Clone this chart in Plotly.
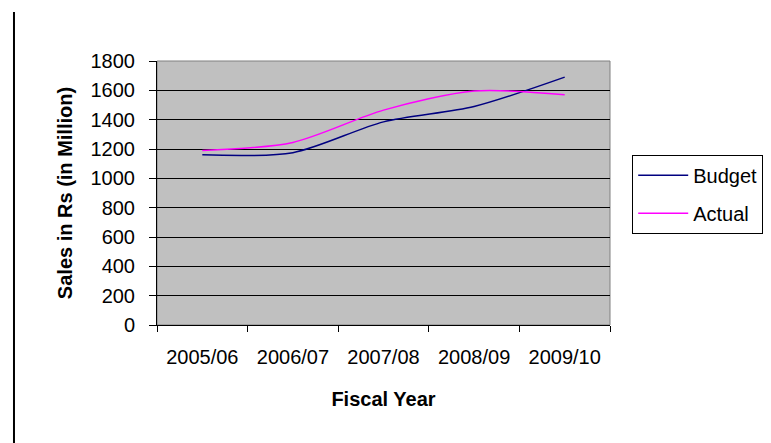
import plotly.graph_objects as go

categories = ["2005/06", "2006/07", "2007/08", "2008/09", "2009/10"]
budget = [1160, 1175, 1385, 1490, 1690]
actual = [1190, 1245, 1465, 1595, 1570]
y_ticks = [0, 200, 400, 600, 800, 1000, 1200, 1400, 1600, 1800]

FONT = "Liberation Sans, Arial, sans-serif"

fig = go.Figure()
fig.add_trace(go.Scatter(x=categories, y=budget, name="Budget", mode="lines",
                         line=dict(color="#000080", width=1.5, shape="spline", smoothing=0.8),
                         legendgroup="b"))
fig.add_trace(go.Scatter(x=categories, y=actual, name="Actual", mode="lines",
                         line=dict(color="#FF00FF", width=1.5, shape="spline", smoothing=0.8),
                         legendgroup="a"))

fig.update_layout(
    width=771, height=443,
    margin=dict(l=157, r=161, t=61, b=118, autoexpand=False),
    paper_bgcolor="white",
    plot_bgcolor="#C0C0C0",
    font=dict(family=FONT, size=20, color="black"),
    showlegend=True,
    legend=dict(x=1.049, y=0.645, xanchor="left", yanchor="top",
                bordercolor="black", borderwidth=1, bgcolor="white",
                traceorder="grouped", tracegroupgap=9, itemwidth=50,
                entrywidth=120,
                font=dict(size=20)),
    xaxis=dict(
        type="category", tickson="boundaries", ticks="outside", ticklen=6,
        tickcolor="black", showline=True, linecolor="black", linewidth=1,
        showgrid=False, range=[-0.5, 4.5], ticklabelstandoff=14,
        title=dict(text="<b>Fiscal Year</b>", standoff=24, font=dict(size=20)),
    ),
    yaxis=dict(
        range=[0, 1800], tickvals=y_ticks, ticks="outside", ticklen=7,
        tickcolor="black", showline=True, linecolor="black", linewidth=1,
        showgrid=True, gridcolor="black", gridwidth=1,
        ticklabelstandoff=10, zeroline=False,
        title=dict(text="<b>Sales in Rs (in Million)</b>", standoff=12, font=dict(size=20)),
    ),
    shapes=[
        dict(type="rect", xref="paper", yref="paper", x0=0, x1=1, y0=0, y1=1,
             line=dict(color="#808080", width=1), layer="below"),
        dict(type="line", xref="paper", yref="paper", x0=-0.3157, x1=-0.3157,
             y0=1.186, y1=-0.45, line=dict(color="black", width=2)),
    ],
)

fig.write_html("out.html")
